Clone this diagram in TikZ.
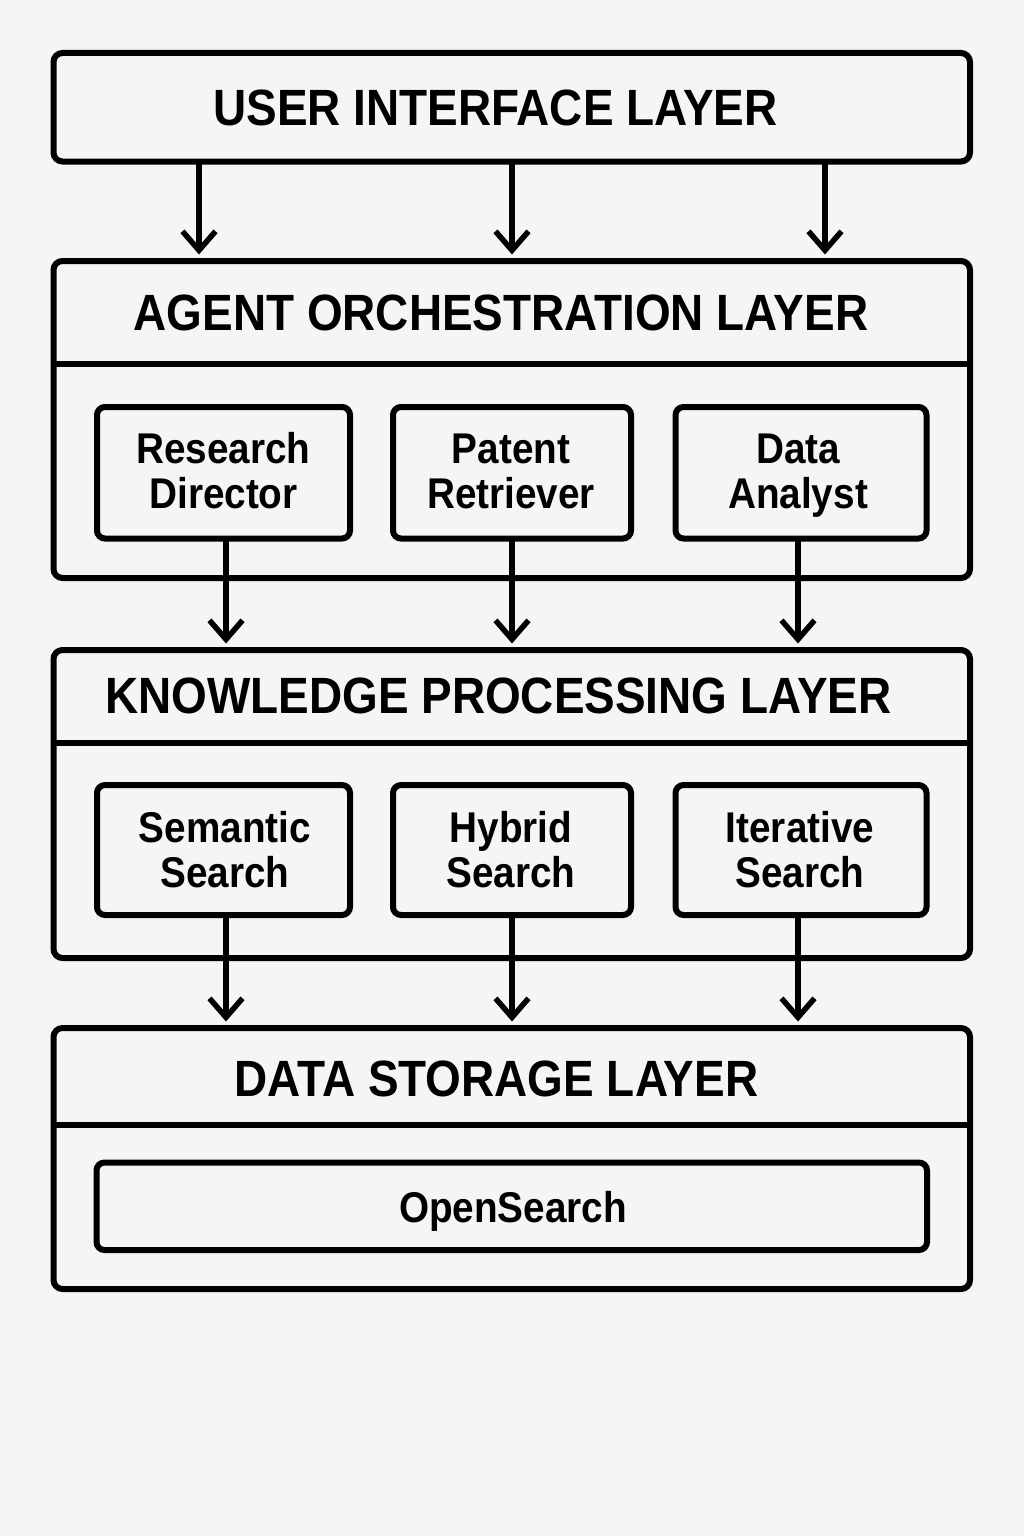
\documentclass[tikz,border=0pt]{standalone}
\usepackage{fontspec}
\newfontfamily\dfont{Liberation Sans}[FakeStretch=0.9]
\usetikzlibrary{arrows.meta,calc}
\definecolor{bgc}{HTML}{F6F5F3}
\begin{document}
\begin{tikzpicture}[x=1pt,y=-1pt,
  outerbox/.style={draw=black, line width=6pt, rounded corners=9pt, inner sep=0pt, outer sep=0pt},
  innerbox/.style={draw=black, line width=6pt, rounded corners=8pt, inner sep=0pt, outer sep=0pt},
  divider/.style={draw=black, line width=6pt},
  titletext/.style={anchor=base, inner sep=0pt, font=\dfont\bfseries\fontsize{51}{61}\selectfont},
  boxtext/.style={anchor=base, inner sep=0pt, font=\dfont\bfseries\fontsize{43}{52}\selectfont},
  arr/.style={draw=black, line width=5.5pt, -{Straight Barb[length=19pt,width=33pt]}, shorten >=6.5pt}
]
\fill[bgc] (0,0) rectangle (1024,1536);
\useasboundingbox (0,0) rectangle (1024,1536);

% outer layer boxes
\node[outerbox, minimum width=916.5pt, minimum height=108.5pt] (ui) at (511.75,107.25) {};
\node[outerbox, minimum width=916.5pt, minimum height=317pt] (ag) at (511.75,419.5) {};
\node[outerbox, minimum width=916.5pt, minimum height=308pt] (kp) at (511.75,804) {};
\node[outerbox, minimum width=916.5pt, minimum height=261pt] (ds) at (511.75,1158.5) {};

% dividers
\draw[divider] ($(ag.north west)+(0,103)$) -- ($(ag.north east)+(0,103)$);
\draw[divider] ($(kp.north west)+(0,93)$) -- ($(kp.north east)+(0,93)$);
\draw[divider] ($(ds.north west)+(0,97)$) -- ($(ds.north east)+(0,97)$);

% titles
\node[titletext] (uit) at (495.5,125) {USER INTERFACE LAYER};
\node[titletext] (agt) at (501,330) {AGENT ORCHESTRATION LAYER};
\node[titletext] (kpt) at (498.5,713) {KNOWLEDGE PROCESSING LAYER};
\node[titletext] (dst) at (496.5,1096) {DATA STORAGE LAYER};

% inner boxes row 1
\node[innerbox, minimum width=253pt, minimum height=131.5pt] (rd) at (223.5,472.75) {};
\node[innerbox, minimum width=238pt, minimum height=131.5pt] (pr) at (512,472.75) {};
\node[innerbox, minimum width=251pt, minimum height=131.5pt] (da) at (801,472.75) {};
% inner boxes row 2
\node[innerbox, minimum width=253pt, minimum height=130pt] (ss) at (223.5,850) {};
\node[innerbox, minimum width=238pt, minimum height=130pt] (hs) at (512,850) {};
\node[innerbox, minimum width=251pt, minimum height=130pt] (is) at (801,850) {};
% storage
\node[innerbox, minimum width=830.5pt, minimum height=87.5pt] (os) at (511.75,1206.25) {};

% box texts
\node[boxtext] (rd1) at (223.5,463) {Research};
\node[boxtext] (rd2) at (223.5,508) {Director};
\node[boxtext] (pr1) at (511,463) {Patent};
\node[boxtext] (pr2) at (511,508) {Retriever};
\node[boxtext] (da1) at (798,463) {Data};
\node[boxtext] (da2) at (798,508) {Analyst};
\node[boxtext] (ss1) at (225,842) {Semantic};
\node[boxtext] (ss2) at (225,887) {Search};
\node[boxtext] (hs1) at (511,842) {Hybrid};
\node[boxtext] (hs2) at (511,887) {Search};
\node[boxtext] (is1) at (800,842) {Iterative};
\node[boxtext] (is2) at (800,887) {Search};
\node[boxtext] (os1) at (513,1222) {OpenSearch};

% arrow columns
\coordinate (c1) at (199,0);
\coordinate (c2) at (512,0);
\coordinate (c3) at (825,0);
\coordinate (d1) at (226,0);
\coordinate (d2) at (512,0);
\coordinate (d3) at (798,0);

\draw[arr] (ui.south -| c1) -- (ag.north -| c1);
\draw[arr] (ui.south -| c2) -- (ag.north -| c2);
\draw[arr] (ui.south -| c3) -- (ag.north -| c3);

\draw[arr] (rd.south -| d1) -- (kp.north -| d1);
\draw[arr] (pr.south -| d2) -- (kp.north -| d2);
\draw[arr] (da.south -| d3) -- (kp.north -| d3);

\draw[arr] (ss.south -| d1) -- (ds.north -| d1);
\draw[arr] (hs.south -| d2) -- (ds.north -| d2);
\draw[arr] (is.south -| d3) -- (ds.north -| d3);
\end{tikzpicture}
\end{document}
